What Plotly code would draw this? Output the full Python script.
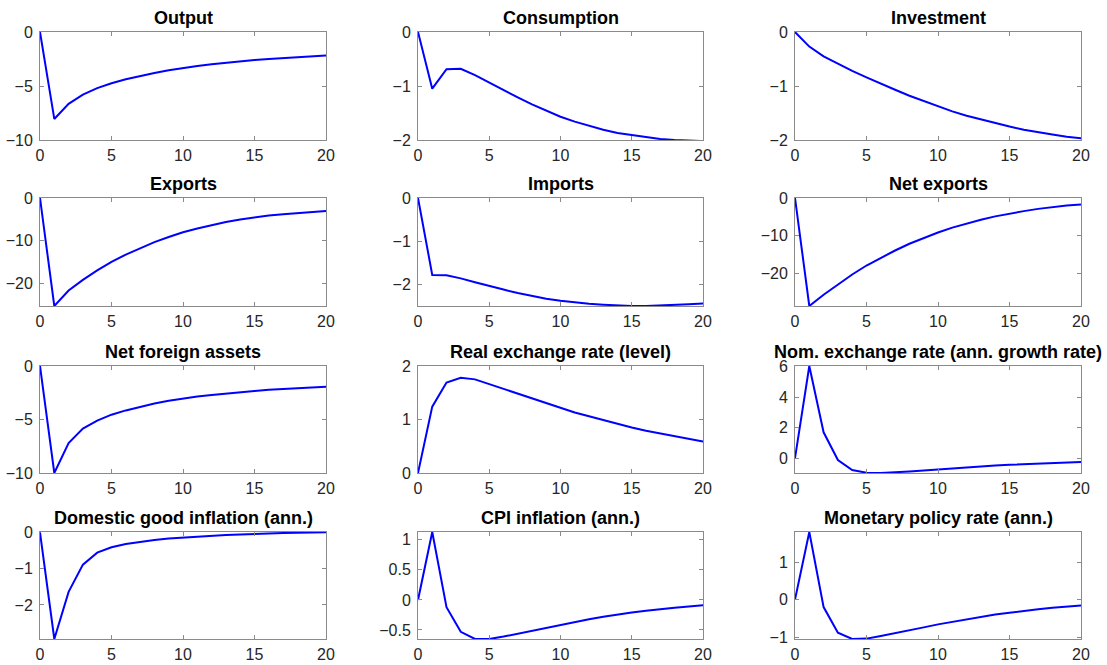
import plotly.graph_objects as go

periods = list(range(21))

titles = ["Output", "Consumption", "Investment",
          "Exports", "Imports", "Net exports",
          "Net foreign assets", "Real exchange rate (level)", "Nom. exchange rate (ann. growth rate)",
          "Domestic good inflation (ann.)", "CPI inflation (ann.)", "Monetary policy rate (ann.)"]

output = [0, -8.05, -6.65, -5.8, -5.2, -4.75, -4.38, -4.07, -3.8, -3.55, -3.33, -3.15, -2.98, -2.84, -2.72, -2.6, -2.5, -2.41, -2.33, -2.25, -2.18]
consumption = [0, -1.05, -0.69, -0.68, -0.8, -0.94, -1.08, -1.21, -1.34, -1.46, -1.57, -1.66, -1.74, -1.81, -1.87, -1.91, -1.95, -1.98, -2.0, -2.01, -2.02]
investment = [0, -0.27, -0.45, -0.59, -0.72, -0.84, -0.96, -1.07, -1.18, -1.28, -1.38, -1.47, -1.55, -1.62, -1.69, -1.75, -1.81, -1.86, -1.9, -1.94, -1.97]
exports = [0, -25.2, -21.6, -19.1, -16.9, -14.9, -13.2, -11.7, -10.3, -9.1, -8.0, -7.1, -6.3, -5.6, -5.0, -4.5, -4.1, -3.8, -3.5, -3.25, -3.05]
imports = [0, -1.78, -1.79, -1.86, -1.95, -2.04, -2.12, -2.2, -2.27, -2.33, -2.38, -2.42, -2.45, -2.47, -2.49, -2.5, -2.5, -2.49, -2.48, -2.46, -2.44]
net_exports = [0, -28.8, -25.8, -23.0, -20.4, -18.0, -15.9, -14.0, -12.2, -10.6, -9.2, -7.9, -6.8, -5.8, -4.9, -4.1, -3.5, -2.9, -2.4, -2.0, -1.75]
net_foreign_assets = [0, -10.0, -7.2, -5.85, -5.1, -4.55, -4.15, -3.8, -3.5, -3.25, -3.03, -2.85, -2.7, -2.56, -2.44, -2.33, -2.23, -2.15, -2.07, -2.0, -1.95]
real_exchange_rate = [0, 1.24, 1.69, 1.78, 1.75, 1.66, 1.57, 1.48, 1.39, 1.30, 1.21, 1.13, 1.06, 0.99, 0.91, 0.85, 0.79, 0.74, 0.69, 0.64, 0.59]
nom_exchange_rate = [0, 6.05, 1.7, -0.12, -0.78, -0.95, -0.97, -0.93, -0.87, -0.8, -0.73, -0.66, -0.6, -0.54, -0.48, -0.43, -0.39, -0.35, -0.31, -0.28, -0.25]
domestic_inflation = [0, -2.94, -1.64, -0.89, -0.56, -0.41, -0.32, -0.26, -0.21, -0.17, -0.14, -0.11, -0.09, -0.07, -0.06, -0.04, -0.03, -0.02, -0.01, 0.0, 0.005]
cpi_inflation = [0, 1.13, -0.12, -0.53, -0.65, -0.65, -0.61, -0.56, -0.51, -0.46, -0.41, -0.36, -0.32, -0.28, -0.24, -0.21, -0.18, -0.15, -0.13, -0.11, -0.09]
policy_rate = [0, 1.8, -0.2, -0.88, -1.05, -1.04, -0.97, -0.9, -0.82, -0.74, -0.66, -0.59, -0.52, -0.46, -0.4, -0.35, -0.3, -0.26, -0.22, -0.19, -0.16]

series = [output, consumption, investment, exports, imports, net_exports,
          net_foreign_assets, real_exchange_rate, nom_exchange_rate,
          domestic_inflation, cpi_inflation, policy_rate]

y_ranges = [[-10, 0], [-2, 0], [-2, 0],
            [-25.2, 0], [-2.5, 0], [-28.8, 0],
            [-10, 0], [0, 2], [-0.97, 6.05],
            [-2.94, 0.01], [-0.65, 1.13], [-1.05, 1.8]]
y_ticks = [[-10, -5, 0], [-2, -1, 0], [-2, -1, 0],
           [-20, -10, 0], [-2, -1, 0], [-20, -10, 0],
           [-10, -5, 0], [0, 1, 2], [0, 2, 4, 6],
           [-2, -1, 0], [-0.5, 0, 0.5, 1], [-1, 0, 1]]
x_ticks = [0, 5, 10, 15, 20]

W, H = 1107, 665
col_px = [(40, 326), (418, 703), (795, 1081)]
row_px = [(32, 140), (198, 306), (366, 473), (532, 639)]
ML, MT = col_px[0][0], row_px[0][0]
MR, MB = W - col_px[2][1], H - row_px[3][1]
pw, ph = W - ML - MR, H - MT - MB

fig = go.Figure()
layout = dict(
    width=W, height=H,
    margin=dict(l=ML, r=MR, t=MT, b=MB, pad=0),
    paper_bgcolor="white", plot_bgcolor="white",
    showlegend=False,
    font=dict(family="Liberation Sans, Arial, sans-serif", size=16, color="#262626"),
)
annotations = []
axis_color = "#8a8a8a"
for i, (name, ys) in enumerate(zip(titles, series)):
    r, c = divmod(i, 3)
    n = i + 1
    xa = "x" if n == 1 else f"x{n}"
    ya = "y" if n == 1 else f"y{n}"
    fig.add_trace(go.Scatter(x=periods, y=ys, mode="lines",
                             line=dict(color="#0000ff", width=2),
                             xaxis=xa, yaxis=ya, cliponaxis=True))
    x0, x1 = col_px[c]
    y0, y1 = row_px[r]
    xdom = [(x0 - ML) / pw, (x1 - ML) / pw]
    ydom = [1 - (y1 - MT) / ph, 1 - (y0 - MT) / ph]
    common = dict(showline=True, linecolor=axis_color, linewidth=1, mirror="ticks",
                  ticks="inside", ticklen=4, tickcolor=axis_color, tickwidth=1,
                  showgrid=False, zeroline=False, automargin=False,
                  tickfont=dict(size=16, color="#262626"))
    layout["xaxis" if n == 1 else f"xaxis{n}"] = dict(
        domain=xdom, anchor=ya, range=[0, 20], tickvals=x_ticks,
        ticklabelstandoff=1, **common)
    layout["yaxis" if n == 1 else f"yaxis{n}"] = dict(
        domain=ydom, anchor=xa, range=y_ranges[i], tickvals=y_ticks[i],
        ticklabelstandoff=3, **common)
    annotations.append(dict(text=f"<b>{name}</b>", xref="paper", yref="paper",
                            x=(xdom[0] + xdom[1]) / 2, y=ydom[1],
                            xanchor="center", yanchor="bottom", yshift=2,
                            showarrow=False,
                            font=dict(size=18, color="black",
                                      family="Liberation Sans, Arial, sans-serif")))
layout["annotations"] = annotations
fig.update_layout(**layout)
fig.write_html("out.html", config={"displayModeBar": False},
               post_script="document.body.style.margin='0';document.body.style.overflow='hidden';")
